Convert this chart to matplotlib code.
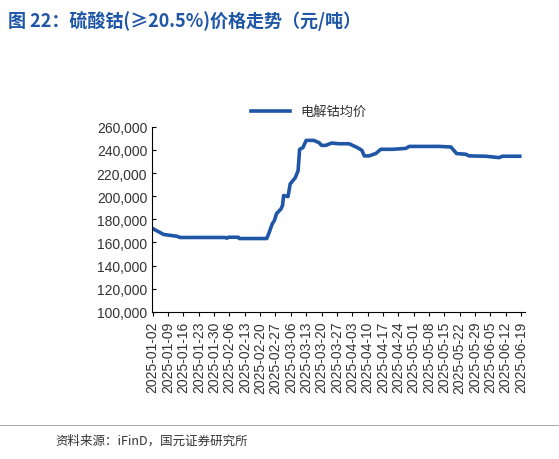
import numpy as np
import matplotlib
matplotlib.use("Agg")
import matplotlib.pyplot as plt
import matplotlib.dates as mdates
import pandas as pd

plt.rcParams['font.family'] = ['Liberation Sans', 'Noto Sans CJK SC', 'DejaVu Sans']

# days since 2025-01-02 and price (元/吨)
days = [0, 5, 11, 12.5, 33, 33.8, 34.5, 39, 39.5, 52, 53, 54.5, 55.5, 56.5, 58.5, 59.2, 59.7,
        61.7, 62.7, 65, 66.3, 67, 68.5, 70, 73.5, 75.9, 77, 78.9, 81.6, 85, 89.6, 93.4, 95.4,
        96.5, 98.7, 101.8, 104, 109.4, 115.5, 117, 130.7, 136, 138.6, 142.8, 144.3, 151.9,
        158, 159.5, 167.4]
prices = [172000, 166900, 165400, 164300, 164300, 163700, 164500, 164500, 163400, 163400,
          168000, 176000, 179000, 185000, 189000, 192000, 200600, 199700, 210600, 216000,
          222000, 240600, 242000, 248300, 248300, 246300, 244000, 244000, 246000, 245400,
          245400, 242000, 239700, 234900, 234900, 237000, 240600, 240600, 241400, 243100,
          243100, 242600, 236900, 236300, 234900, 234600, 233400, 234600, 234600]
start = pd.Timestamp("2025-01-02")
dates = [start + pd.Timedelta(days=d) for d in days]
tick_dates = pd.date_range("2025-01-02", "2025-06-19", freq="7D")

fig = plt.figure(figsize=(5.59, 4.60), dpi=100)
ax = fig.add_axes([0.272, 0.32, 0.668, 0.402])
ax.plot(dates, prices, color="#1f56a5", lw=2.6, label="电解钴均价")
ax.set_ylim(100000, 260000)
ax.set_yticks(np.arange(100000, 260001, 20000))
ax.yaxis.set_major_formatter(matplotlib.ticker.FuncFormatter(lambda v, p: f"{int(v):,}"))
ax.set_xlim(start - pd.Timedelta(days=0.3), pd.Timestamp("2025-06-21"))
ax.set_xticks(tick_dates)
ax.xaxis.set_major_formatter(mdates.DateFormatter("%Y-%m-%d"))
plt.setp(ax.get_xticklabels(), rotation=90, fontsize=10, color="#333333")
plt.setp(ax.get_yticklabels(), fontsize=10, color="#333333")
for s in ["top", "right"]:
    ax.spines[s].set_visible(False)
ax.tick_params(axis="x", direction="out", length=3)
ax.tick_params(axis="y", direction="in", length=3)
leg = ax.legend(loc="upper center", bbox_to_anchor=(0.42, 1.18), frameon=False, fontsize=9.5,
                handlelength=3)
for t in leg.get_texts():
    t.set_color("#333333")

fig.text(0.015, 0.955, "图 22：硫酸钴(≥20.5%)价格走势（元/吨）", color="#1f56a5",
         fontsize=13, fontweight="bold", va="center",
         family=['Noto Sans CJK SC', 'DejaVu Sans'])
fig.add_artist(plt.Line2D([0.0, 1.0], [0.075, 0.075], color="#999999", lw=0.6))
fig.text(0.1, 0.04, "资料来源：iFinD，国元证券研究所", fontsize=9, color="#333333", va="center",
         family=['Noto Sans CJK SC', 'DejaVu Sans'])

fig.savefig("out.png", dpi=100)
